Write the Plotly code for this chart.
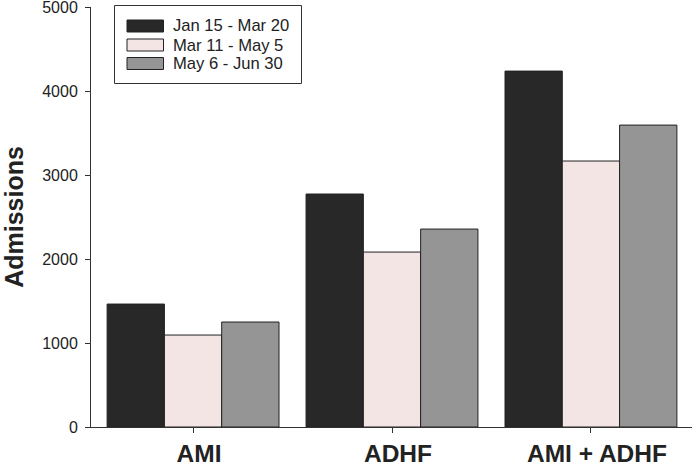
import plotly.graph_objects as go

categories = ["AMI", "ADHF", "AMI + ADHF"]
series_names = ["Jan 15 - Mar 20", "Mar 11 - May 5", "May 6 - Jun 30"]
jan_mar = [1464, 2774, 4238]
mar_may = [1095, 2083, 3167]
may_jun = [1250, 2357, 3595]
y_ticks = [0, 1000, 2000, 3000, 4000, 5000]

colors = ["#282828", "#f3e5e4", "#959595"]
values = [jan_mar, mar_may, may_jun]

FONT = "Liberation Sans, Arial, sans-serif"
W, H = 696, 468
L, R, T, B = 91, 4, 7, 41
pw, ph = W - L - R, H - T - B

def px(x):
    return (x - L) / pw

def py(y):
    return (H - B - y) / ph

fig = go.Figure()
for name, vals, col in zip(series_names, values, colors):
    fig.add_trace(go.Bar(
        x=categories, y=vals, name=name, showlegend=False,
        marker=dict(color=col, line=dict(color="#222222", width=1)),
    ))

# legend drawn as box + swatches + text
shapes = [dict(type="rect", xref="paper", yref="paper",
               x0=px(114.5), x1=px(301.5), y0=py(83.5), y1=py(5.5),
               line=dict(color="#333333", width=1), fillcolor="white", layer="above")]
annotations = []
row_centers = [26, 45, 63.5]
for name, col, yc in zip(series_names, colors, row_centers):
    shapes.append(dict(type="rect", xref="paper", yref="paper",
                       x0=px(127), x1=px(163.5), y0=py(yc + 6), y1=py(yc - 6),
                       line=dict(color="#222222", width=1), fillcolor=col, layer="above"))
    annotations.append(dict(xref="paper", yref="paper", x=px(170.5), y=py(yc),
                            xanchor="left", yanchor="middle", text=name, showarrow=False,
                            font=dict(family=FONT, size=16.6, color="#222222")))

fig.update_layout(
    width=W, height=H,
    margin=dict(l=L, r=R, t=T, b=B, autoexpand=False),
    paper_bgcolor="white", plot_bgcolor="white",
    barmode="group", bargap=0.136, bargroupgap=0,
    shapes=shapes, annotations=annotations,
    font=dict(family=FONT, color="#222222"),
    xaxis=dict(
        range=[-0.513, 2.508], showline=True, linecolor="#333333", linewidth=1,
        ticks="outside", ticklen=5, tickcolor="#333333",
        tickfont=dict(size=24.5, family=FONT, color="#222222"),
        showgrid=False, zeroline=False, automargin=False,
        tickprefix="<b>", ticksuffix="</b>", ticklabelshift=6,
    ),
    yaxis=dict(
        range=[0, 5001], tickvals=y_ticks, showline=True, linecolor="#333333", linewidth=1,
        ticks="outside", ticklen=5, tickcolor="#333333",
        tickfont=dict(size=16, family=FONT, color="#222222"),
        ticklabeloverflow="allow", ticklabelstandoff=4,
        showgrid=False, zeroline=False, automargin=False,
        title=dict(text="<b>Admissions</b>", font=dict(size=25, family=FONT, color="#222222"), standoff=16),
    ),
)

fig.write_html("out.html", config={"displayModeBar": False},
               post_script="document.body.style.margin='0';")
